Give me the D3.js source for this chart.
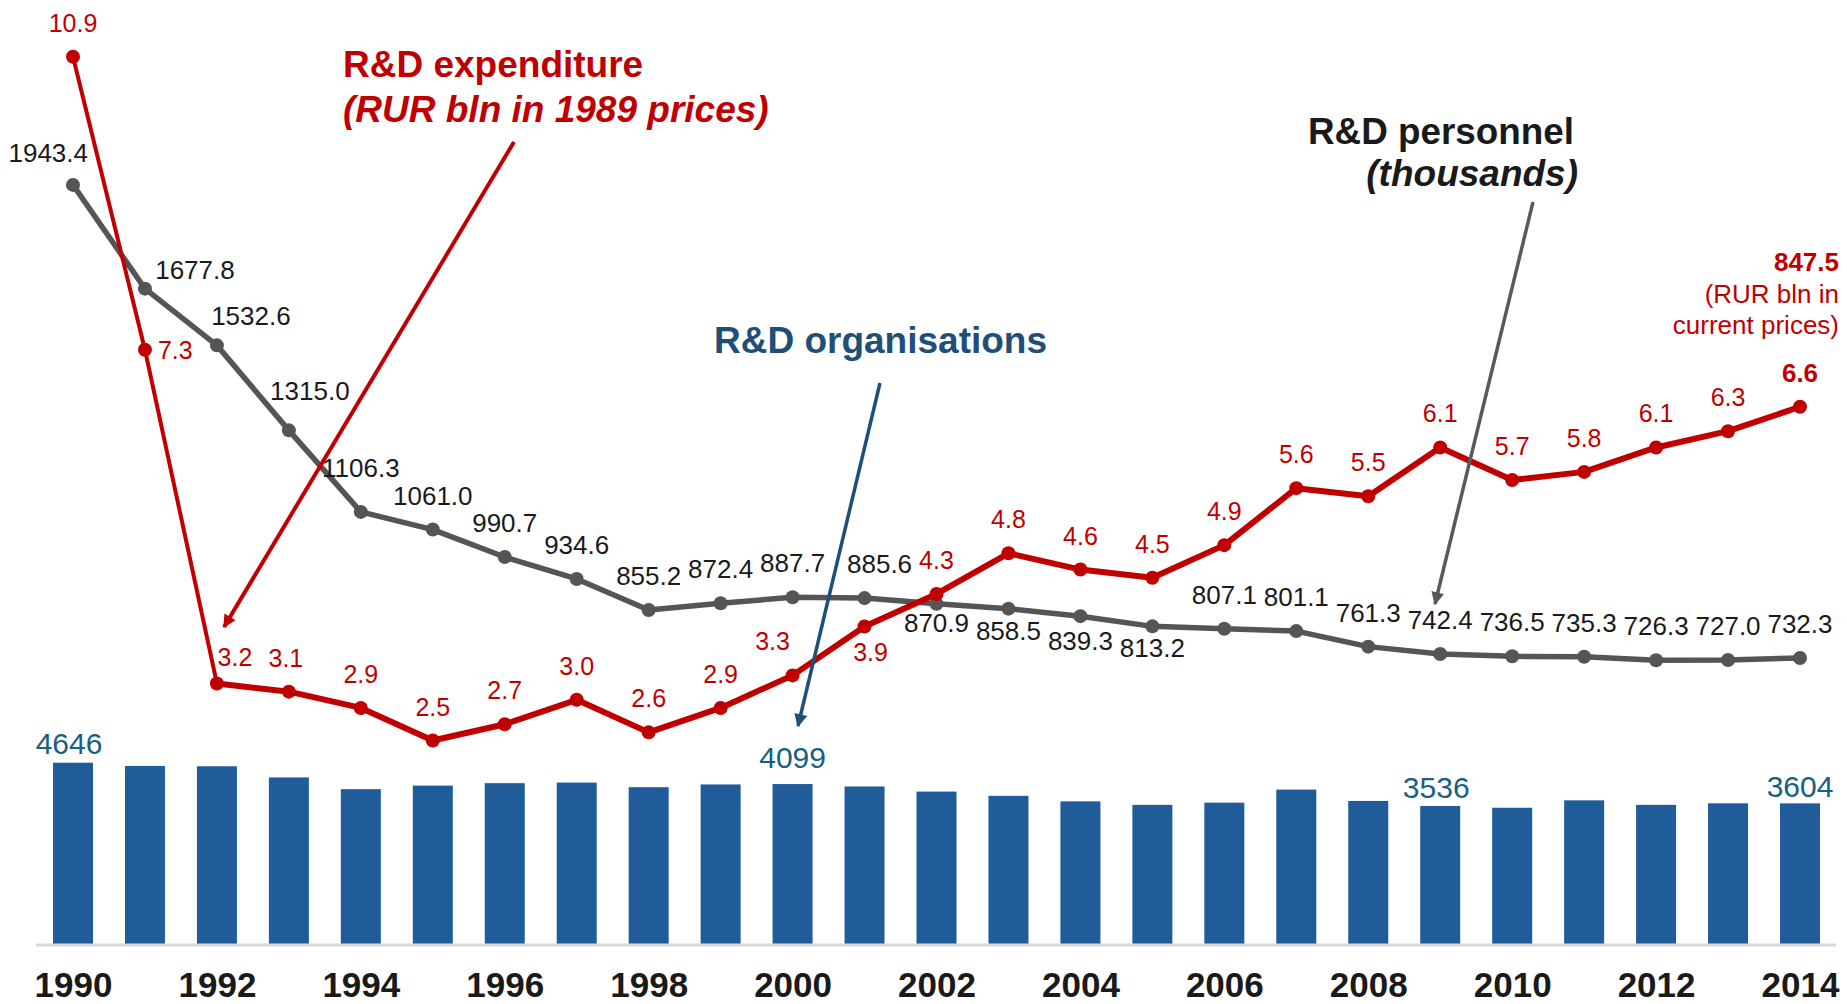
<!DOCTYPE html>
<html>
<head>
<meta charset="utf-8">
<script src="https://cdn.jsdelivr.net/npm/d3@7"></script>
<style>
	body { margin: 0; background: #fff; }
	text { font-family: 'Liberation Sans', Arial, sans-serif; }
</style>
</head>
<body>
<div id="chart"></div>
<script>
// data ////////////////////////////////////////////////////////////////
var years = [1990, 1991, 1992, 1993, 1994, 1995, 1996, 1997, 1998, 1999, 2000, 2001, 2002,
	2003, 2004, 2005, 2006, 2007, 2008, 2009, 2010, 2011, 2012, 2013, 2014];
var tickYears = [1990, 1992, 1994, 1996, 1998, 2000, 2002, 2004, 2006, 2008, 2010, 2012, 2014];

// R&D organisations (bars)
var organisations = [4646, 4564, 4555, 4269, 3968, 4059, 4122, 4137, 4019, 4089, 4099, 4037, 3906,
	3797, 3656, 3566, 3622, 3957, 3666, 3536, 3492, 3682, 3566, 3605, 3604];
var organisationLabelYears = [1990, 2000, 2009, 2014];

// R&D personnel, thousands
var personnel = [1943.4, 1677.8, 1532.6, 1315.0, 1106.3, 1061.0, 990.7, 934.6, 855.2, 872.4, 887.7, 885.6, 870.9,
	858.5, 839.3, 813.2, 807.1, 801.1, 761.3, 742.4, 736.5, 735.3, 726.3, 727.0, 732.3];

// R&D expenditure, RUR bln in 1989 prices
var expenditure = [10.9, 7.3, 3.2, 3.1, 2.9, 2.5, 2.7, 3.0, 2.6, 2.9, 3.3, 3.9, 4.3,
	4.8, 4.6, 4.5, 4.9, 5.6, 5.5, 6.1, 5.7, 5.8, 6.1, 6.3, 6.6];
var expenditureCurrent2014 = 847.5;

// layout //////////////////////////////////////////////////////////////
var width = 1847, height = 1004;
var baseY = 944;
var barW = 40;
var red = '#c00000', grey = '#555555', blue = '#1f5c99', navy = '#1f4e79', teal = '#17607f';

var x = d3.scalePoint().domain(years).range([73, 1800]);
var yOrg = d3.scaleLinear().domain([0, 5000]).range([baseY, baseY - 195.1]);
var yPers = d3.scaleLinear().domain([0, 2000]).range([baseY, baseY - 781.2]);
var yExp = d3.scaleLinear().domain([0, 11]).range([baseY, baseY - 895.4]);

// label nudges (default: centred above the point)
var persLabelPos = {
	1990: {dx: 15, dy: -23, anchor: 'end'},
	1991: {dx: 50, dy: -10},
	1992: {dx: 34, dy: -20},
	1993: {dx: 21, dy: -30},
	1994: {dy: -35},
	2001: {dx: 15},
	2002: {dy: 28}, 2003: {dy: 31}, 2004: {dy: 34}, 2005: {dy: 31}
};
var expLabelPos = {
	1991: {dx: 13, dy: 9, anchor: 'start'},
	1992: {dx: 18, dy: -18},
	1993: {dx: -3},
	2000: {dx: -20},
	2001: {dx: 6, dy: 34}
};
var orgLabelPos = {
	1990: {dx: -4, dy: -9}, 2000: {dy: -16}, 2009: {dx: -4, dy: -8}, 2014: {dy: -6}
};

var svg = d3.select('#chart').append('svg')
	.attr('width', width)
	.attr('height', height);

svg.append('rect')
	.attr('width', width)
	.attr('height', height)
	.attr('fill', '#fff');

var defs = svg.append('defs');
[['red', red], ['navy', navy], ['grey', '#595959']].forEach(function(m) {
	defs.append('marker')
		.attr('id', 'arrow-' + m[0])
		.attr('viewBox', '0 0 10 10')
		.attr('refX', 9)
		.attr('refY', 5)
		.attr('markerUnits', 'userSpaceOnUse')
		.attr('markerWidth', 15)
		.attr('markerHeight', 13)
		.attr('orient', 'auto')
		.append('path')
		.attr('d', 'M0,0 L10,5 L0,10 z')
		.attr('fill', m[1]);
});

// bars
svg.append('g').attr('class', 'bars')
	.selectAll('rect')
	.data(years)
	.enter().append('rect')
	.attr('x', function(d) { return x(d) - barW / 2; })
	.attr('y', function(d, i) { return yOrg(organisations[i]); })
	.attr('width', barW)
	.attr('height', function(d, i) { return baseY - yOrg(organisations[i]); })
	.attr('fill', blue);

svg.append('line')
	.attr('x1', 36).attr('x2', 1836)
	.attr('y1', baseY + 1).attr('y2', baseY + 1)
	.attr('stroke', '#d9d9d9')
	.attr('stroke-width', 3);

// x axis
var xAxis = d3.axisBottom(x)
	.tickValues(tickYears)
	.tickSize(0)
	.tickPadding(28);
var gx = svg.append('g')
	.attr('transform', 'translate(0,' + baseY + ')')
	.call(xAxis);
gx.select('.domain').remove();
gx.selectAll('text')
	.attr('font-size', 35)
	.attr('font-weight', 'bold')
	.attr('fill', '#1a1a1a');

// bar labels
svg.append('g')
	.selectAll('text')
	.data(organisationLabelYears)
	.enter().append('text')
	.attr('x', function(d) { return x(d) + (orgLabelPos[d].dx || 0); })
	.attr('y', function(d) { return yOrg(organisations[years.indexOf(d)]) + orgLabelPos[d].dy; })
	.attr('text-anchor', 'middle')
	.attr('font-size', 30)
	.attr('fill', teal)
	.text(function(d) { return organisations[years.indexOf(d)]; });

// annotation arrows
function arrow(x1, y1, x2, y2, color, w, id) {
	svg.append('line')
		.attr('x1', x1).attr('y1', y1)
		.attr('x2', x2).attr('y2', y2)
		.attr('stroke', color)
		.attr('stroke-width', w)
		.attr('marker-end', 'url(#arrow-' + id + ')');
}

// lines
var persPts = years.map(function(y, i) { return {year: y, v: personnel[i]}; });
var expPts = years.map(function(y, i) { return {year: y, v: expenditure[i]}; });

var persLine = d3.line()
	.x(function(d) { return x(d.year); })
	.y(function(d) { return yPers(d.v); });
var expLine = d3.line()
	.x(function(d) { return x(d.year); })
	.y(function(d) { return yExp(d.v); });

svg.append('path')
	.datum(persPts)
	.attr('d', persLine)
	.attr('fill', 'none')
	.attr('stroke', grey)
	.attr('stroke-width', 5.5)
	.attr('stroke-linejoin', 'round');
svg.append('g')
	.selectAll('circle')
	.data(persPts)
	.enter().append('circle')
	.attr('cx', function(d) { return x(d.year); })
	.attr('cy', function(d) { return yPers(d.v); })
	.attr('r', 7)
	.attr('fill', grey);

svg.append('path')
	.datum(expPts.slice(0, 3))
	.attr('d', expLine)
	.attr('fill', 'none')
	.attr('stroke', red)
	.attr('stroke-width', 4)
	.attr('stroke-linejoin', 'round');
svg.append('path')
	.datum(expPts.slice(2))
	.attr('d', expLine)
	.attr('fill', 'none')
	.attr('stroke', red)
	.attr('stroke-width', 6)
	.attr('stroke-linejoin', 'round');
svg.append('g')
	.selectAll('circle')
	.data(expPts)
	.enter().append('circle')
	.attr('cx', function(d) { return x(d.year); })
	.attr('cy', function(d) { return yExp(d.v); })
	.attr('r', 7)
	.attr('fill', red);

arrow(514, 142, 224, 627, red, 4, 'red');
arrow(880, 383, 798, 726, navy, 3.5, 'navy');
arrow(1533, 202, 1435, 604, '#595959', 3.5, 'grey');

// point labels
svg.append('g')
	.selectAll('text')
	.data(persPts)
	.enter().append('text')
	.attr('x', function(d) { var p = persLabelPos[d.year] || {}; return x(d.year) + (p.dx || 0); })
	.attr('y', function(d) { var p = persLabelPos[d.year] || {}; return yPers(d.v) + (p.dy === undefined ? -25 : p.dy); })
	.attr('text-anchor', function(d) { var p = persLabelPos[d.year] || {}; return p.anchor || 'middle'; })
	.attr('font-size', 26)
	.attr('fill', '#1a1a1a')
	.text(function(d) { return d3.format('.1f')(d.v); });

svg.append('g')
	.selectAll('text')
	.data(expPts)
	.enter().append('text')
	.attr('x', function(d) { var p = expLabelPos[d.year] || {}; return x(d.year) + (p.dx || 0); })
	.attr('y', function(d) { var p = expLabelPos[d.year] || {}; return yExp(d.v) + (p.dy === undefined ? -25 : p.dy); })
	.attr('text-anchor', function(d) { var p = expLabelPos[d.year] || {}; return p.anchor || 'middle'; })
	.attr('font-size', function(d) { return d.year == 2014 ? 26 : 25; })
	.attr('font-weight', function(d) { return d.year == 2014 ? 'bold' : 'normal'; })
	.attr('fill', red)
	.text(function(d) { return d3.format('.1f')(d.v); });

// series titles
var t = svg.append('text')
	.attr('x', 343).attr('y', 77)
	.attr('font-size', 37)
	.attr('font-weight', 'bold')
	.attr('fill', red);
t.append('tspan').text('R&D expenditure');
t.append('tspan')
	.attr('x', 343).attr('dy', 45)
	.attr('font-style', 'italic')
	.text('(RUR bln in 1989 prices)');

svg.append('text')
	.attr('x', 714).attr('y', 353)
	.attr('font-size', 37)
	.attr('font-weight', 'bold')
	.attr('fill', navy)
	.text('R&D organisations');

svg.append('text')
	.attr('x', 1574).attr('y', 144)
	.attr('text-anchor', 'end')
	.attr('font-size', 37)
	.attr('font-weight', 'bold')
	.attr('fill', '#1a1a1a')
	.attr('textLength', 266)
	.attr('lengthAdjust', 'spacingAndGlyphs')
	.text('R&D personnel');
svg.append('text')
	.attr('x', 1578).attr('y', 186)
	.attr('text-anchor', 'end')
	.attr('font-size', 37)
	.attr('font-weight', 'bold')
	.attr('font-style', 'italic')
	.attr('fill', '#1a1a1a')
	.text('(thousands)');

// 2014 current-price note
var note = svg.append('text')
	.attr('x', 1839).attr('y', 271)
	.attr('text-anchor', 'end')
	.attr('fill', red);
note.append('tspan')
	.attr('font-size', 26)
	.attr('font-weight', 'bold')
	.text(d3.format('.1f')(expenditureCurrent2014));
note.append('tspan')
	.attr('x', 1839).attr('dy', 32)
	.attr('font-size', 26)
	.text('(RUR bln in');
note.append('tspan')
	.attr('x', 1839).attr('dy', 31)
	.attr('font-size', 26)
	.text('current prices)');
</script>
</body>
</html>
